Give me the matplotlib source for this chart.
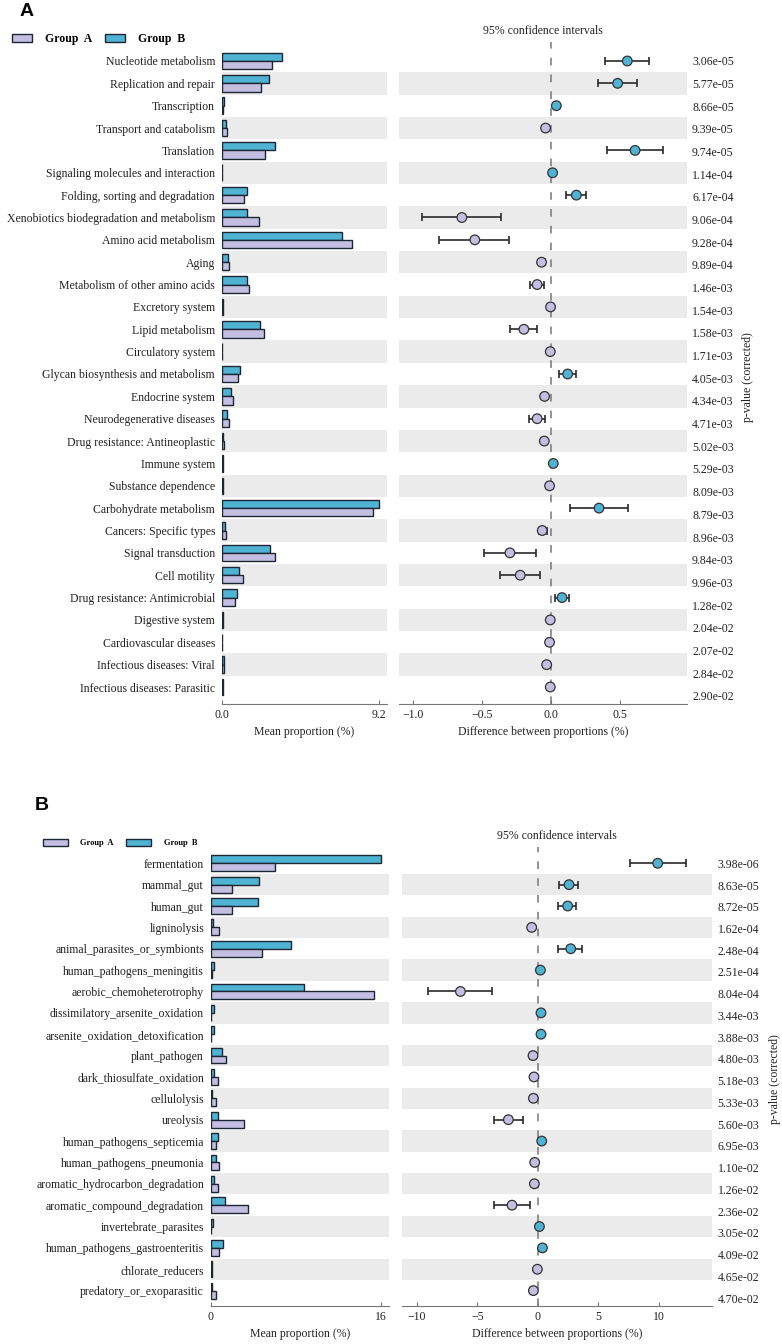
"""
Extended error bar plots (STAMP style) for two groups:
A) KEGG level-2 pathways, B) FAPROTAX functions.
"""

import matplotlib
matplotlib.use('Agg')
import matplotlib.pyplot as plt
import numpy as np

plt.rcParams['font.family'] = ['Liberation Serif', 'DejaVu Serif']
plt.rcParams['axes.unicode_minus'] = True

COL_A = '#c4bee2'
COL_B = '#4fb3d3'
EDGE = '#1c2733'
BAND = '#ebebeb'
TXT = '#222222'

# ---- panel A data -------------------------------------------------------
names_a = [
    'Nucleotide metabolism', 'Replication and repair', 'Transcription',
    'Transport and catabolism', 'Translation',
    'Signaling molecules and interaction', 'Folding, sorting and degradation',
    'Xenobiotics biodegradation and metabolism', 'Amino acid metabolism',
    'Aging', 'Metabolism of other amino acids', 'Excretory system',
    'Lipid metabolism', 'Circulatory system',
    'Glycan biosynthesis and metabolism', 'Endocrine system',
    'Neurodegenerative diseases', 'Drug resistance: Antineoplastic',
    'Immune system', 'Substance dependence', 'Carbohydrate metabolism',
    'Cancers: Specific types', 'Signal transduction', 'Cell motility',
    'Drug resistance: Antimicrobial', 'Digestive system',
    'Cardiovascular diseases', 'Infectious diseases: Viral',
    'Infectious diseases: Parasitic',
]
mean_a_grp1 = [2.95, 2.27, 0.08, 0.29, 2.54, 0.02, 1.27, 2.15, 7.60, 0.43,
               1.58, 0.03, 2.46, 0.02, 0.96, 0.62, 0.39, 0.12, 0.03, 0.04,
               8.87, 0.22, 3.10, 1.25, 0.76, 0.03, 0.02, 0.12, 0.05]
mean_a_grp2 = [3.50, 2.77, 0.12, 0.21, 3.12, 0.02, 1.45, 1.48, 7.05, 0.33,
               1.48, 0.03, 2.25, 0.02, 1.05, 0.55, 0.27, 0.08, 0.04, 0.03,
               9.22, 0.16, 2.81, 1.00, 0.86, 0.03, 0.02, 0.10, 0.05]
diff_a = [0.553, 0.483, 0.039, -0.039, 0.609, 0.012, 0.184, -0.645, -0.551,
          -0.068, -0.100, -0.003, -0.196, -0.005, 0.121, -0.046, -0.100,
          -0.048, 0.017, -0.010, 0.348, -0.063, -0.297, -0.222, 0.080,
          -0.005, -0.010, -0.031, -0.005]
ci_lo_a = [0.390, 0.343, 0.025, -0.052, 0.406, 0.002, 0.106, -0.930, -0.810,
           -0.090, -0.152, -0.012, -0.297, -0.014, 0.058, -0.062, -0.159,
           -0.065, 0.007, -0.020, 0.135, -0.086, -0.488, -0.367, 0.029,
           -0.014, -0.019, -0.045, -0.014]
ci_hi_a = [0.710, 0.625, 0.053, -0.026, 0.809, 0.022, 0.254, -0.365, -0.302,
           -0.045, -0.050, 0.006, -0.099, 0.004, 0.181, -0.030, -0.046,
           -0.030, 0.027, 0.000, 0.558, -0.030, -0.109, -0.077, 0.128,
           0.004, -0.001, -0.017, 0.004]
pvals_a = ['3.06e-05', '5.77e-05', '8.66e-05', '9.39e-05', '9.74e-05',
           '1.14e-04', '6.17e-04', '9.06e-04', '9.28e-04', '9.89e-04',
           '1.46e-03', '1.54e-03', '1.58e-03', '1.71e-03', '4.05e-03',
           '4.34e-03', '4.71e-03', '5.02e-03', '5.29e-03', '8.09e-03',
           '8.79e-03', '8.96e-03', '9.84e-03', '9.96e-03', '1.28e-02',
           '2.04e-02', '2.07e-02', '2.84e-02', '2.90e-02']

# ---- panel B data -------------------------------------------------------
names_b = [
    'fermentation', 'mammal_gut', 'human_gut', 'ligninolysis',
    'animal_parasites_or_symbionts', 'human_pathogens_meningitis',
    'aerobic_chemoheterotrophy', 'dissimilatory_arsenite_oxidation',
    'arsenite_oxidation_detoxification', 'plant_pathogen',
    'dark_thiosulfate_oxidation', 'cellulolysis', 'ureolysis',
    'human_pathogens_septicemia', 'human_pathogens_pneumonia',
    'aromatic_hydrocarbon_degradation', 'aromatic_compound_degradation',
    'invertebrate_parasites', 'human_pathogens_gastroenteritis',
    'chlorate_reducers', 'predatory_or_exoparasitic',
]
mean_b_grp1 = [6.07, 1.95, 1.95, 0.78, 4.81, 0.05, 15.35, 0.04, 0.04, 1.45,
               0.63, 0.47, 3.14, 0.44, 0.75, 0.63, 3.52, 0.02, 0.72, 0.11,
               0.44]
mean_b_grp2 = [16.04, 4.53, 4.40, 0.22, 7.52, 0.25, 8.80, 0.27, 0.30, 1.04,
               0.31, 0.06, 0.63, 0.69, 0.47, 0.30, 1.32, 0.16, 1.10, 0.08,
               0.05]
diff_b = [9.93, 2.59, 2.48, -0.50, 2.73, 0.22, -6.40, 0.27, 0.27, -0.39,
          -0.31, -0.36, -2.43, 0.33, -0.25, -0.28, -2.13, 0.14, 0.39, -0.03,
          -0.36]
ci_lo_b = [7.62, 1.79, 1.71, -0.70, 1.71, 0.05, -9.05, 0.10, 0.10, -0.60,
           -0.50, -0.55, -3.64, 0.12, -0.45, -0.48, -3.62, 0.00, 0.15, -0.20,
           -0.55]
ci_hi_b = [12.25, 3.31, 3.20, -0.30, 3.70, 0.39, -3.75, 0.44, 0.44, -0.18,
           -0.12, -0.17, -1.24, 0.54, -0.05, -0.08, -0.66, 0.28, 0.63, 0.14,
           -0.17]
pvals_b = ['3.98e-06', '8.63e-05', '8.72e-05', '1.62e-04', '2.48e-04',
           '2.51e-04', '8.04e-04', '3.44e-03', '3.88e-03', '4.80e-03',
           '5.18e-03', '5.33e-03', '5.60e-03', '6.95e-03', '1.10e-02',
           '1.26e-02', '2.36e-02', '3.05e-02', '4.09e-02', '4.65e-02',
           '4.70e-02']

W, H = 782, 1344


def fig_box(x0, y0, x1, y1):
    """pixel box (top-left origin) -> figure fraction rect"""
    return [x0 / W, 1 - y1 / H, (x1 - x0) / W, (y1 - y0) / H]


def draw_panel(fig, bar_px, diff_px, names, g1, g2, diff, lo, hi, pvals,
               bar_ticks, bar_ticklabels, bar_xmax, diff_xlim, diff_ticks,
               y_extra, p_lim, title_pad, p_pad, p_labelpad):
    n = len(names)
    y = np.arange(n)
    h = 0.37
    ylim = (n - 0.5 + y_extra, -0.5)

    # left: mean proportions
    ax = fig.add_axes(fig_box(*bar_px))
    for i in range(1, n, 2):
        ax.axhspan(i - 0.5, i + 0.5, color=BAND, lw=0, zorder=0)
    bars_b = ax.barh(y - h / 2, g2, height=h, color=COL_B, edgecolor=EDGE,
                     linewidth=1.0, zorder=2)
    bars_a = ax.barh(y + h / 2, g1, height=h, color=COL_A, edgecolor=EDGE,
                     linewidth=1.0, zorder=2)
    ax.set_ylim(ylim)
    ax.set_xlim(0, bar_xmax)
    ax.set_yticks(y)
    ax.set_yticklabels(names, fontsize=8.5, color=TXT)
    ax.tick_params(axis='y', length=0, pad=5)
    ax.set_xticks(bar_ticks)
    ax.set_xticklabels(bar_ticklabels, fontsize=8.5, color=TXT)
    ax.tick_params(axis='x', direction='in', length=3, color='#777777',
                   pad=3.5)
    ax.set_xlabel('Mean proportion (%)', fontsize=8.5, color=TXT, labelpad=4)
    for s in ('top', 'right', 'left'):
        ax.spines[s].set_visible(False)
    ax.spines['bottom'].set_color('#777777')

    # right: difference with 95% CI
    dax = fig.add_axes(fig_box(*diff_px))
    for i in range(1, n, 2):
        dax.axhspan(i - 0.5, i + 0.5, color=BAND, lw=0, zorder=0)
    dax.axvline(0, ymin=0, ymax=1.012, color='#777777', lw=1.1,
                dashes=(5, 6), clip_on=False, zorder=1)
    diff = np.asarray(diff)
    err = [diff - np.asarray(lo), np.asarray(hi) - diff]
    dax.errorbar(diff, y, xerr=err, fmt='none', ecolor='#2a2a2a',
                 elinewidth=1.2, capsize=3, capthick=1.2, zorder=3)
    colors = [COL_B if d > 0 else COL_A for d in diff]
    dax.scatter(diff, y, s=48, c=colors, edgecolors='#333333',
                linewidths=0.9, zorder=4)
    dax.set_ylim(ylim)
    dax.set_xlim(diff_xlim)
    dax.set_yticks([])
    dax.set_xticks(diff_ticks)
    dax.tick_params(axis='x', direction='in', length=3, color='#777777',
                    pad=3.5, labelsize=8.5, labelcolor=TXT)
    dax.set_xlabel('Difference between proportions (%)', fontsize=8.5,
                   color=TXT, labelpad=4)
    dax.set_title('95% confidence intervals', fontsize=8.5, color=TXT,
                  pad=title_pad)
    for s in ('top', 'right', 'left'):
        dax.spines[s].set_visible(False)
    dax.spines['bottom'].set_color('#777777')

    # p-values on a right-hand axis
    pax = dax.twinx()
    pax.set_ylim(p_lim)
    pax.set_yticks(y)
    pax.set_yticklabels(pvals, fontsize=8.5, color=TXT)
    pax.tick_params(axis='y', length=0, pad=p_pad)
    pax.set_ylabel('p-value (corrected)', fontsize=8.5, color=TXT,
                   labelpad=p_labelpad)
    for s in pax.spines.values():
        s.set_visible(False)

    return bars_a, bars_b


fig = plt.figure(figsize=(W / 100, H / 100), dpi=100)

# panel A
ha_a, ha_b = draw_panel(
    fig, (222, 49.8, 387, 704), (399, 49.8, 687, 704),
    names_a, mean_a_grp1, mean_a_grp2, diff_a, ci_lo_a, ci_hi_a, pvals_a,
    [0, 9.2], ['0.0', '9.2'], 9.67, (-1.10, 0.985), [-1.0, -0.5, 0.0, 0.5],
    0.26, (28.36, -0.48), 11.4, 3.6, 6)
fig.legend([ha_a, ha_b], ['Group  A', 'Group  B'], loc='center left',
           bbox_to_anchor=(12 / W, 1 - 39 / H), ncol=2, frameon=False,
           prop={'family': 'Liberation Serif', 'weight': 'bold', 'size': 8.5},
           handlelength=1.7, handleheight=0.7, handletextpad=1.1,
           columnspacing=1.1, borderpad=0, borderaxespad=0)
fig.text(20 / W, 1 - 11 / H, 'A', fontsize=14, fontweight='bold',
         family='Liberation Sans', va='center', ha='left')

# panel B
hb_a, hb_b = draw_panel(
    fig, (211, 852.6, 389, 1306), (401.7, 852.6, 712.3, 1306),
    names_b, mean_b_grp1, mean_b_grp2, diff_b, ci_lo_b, ci_hi_b, pvals_b,
    [0, 16], ['0', '16'], 16.8, (-11.26, 14.45), [-10, -5, 0, 5, 10],
    0.22, (20.36, -0.49), 9.8, 3.9, 7)
fig.legend([hb_a, hb_b], ['Group  A', 'Group  B'], loc='center left',
           bbox_to_anchor=(43 / W, 1 - 843 / H), ncol=2, frameon=False,
           prop={'family': 'Liberation Serif', 'weight': 'bold', 'size': 6},
           handlelength=3.0, handleheight=0.85, handletextpad=1.5,
           columnspacing=1.5, borderpad=0, borderaxespad=0)
fig.text(35 / W, 1 - 805 / H, 'B', fontsize=14, fontweight='bold',
         family='Liberation Sans', va='center', ha='left')

fig.savefig('out.png', dpi=100)
plt.close(fig)
